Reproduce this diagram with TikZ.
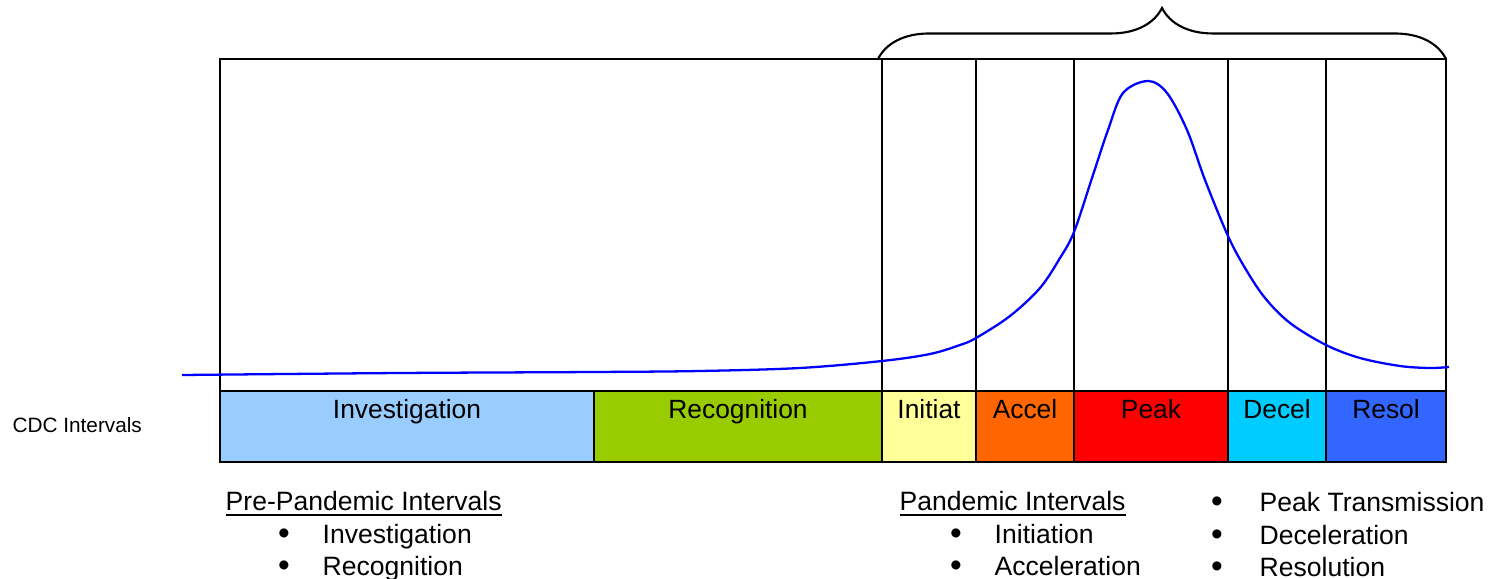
\documentclass[tikz,border=0pt]{standalone}
\usepackage{fontspec}
\setmainfont{Liberation Sans}
\usepackage{tikz}
\usetikzlibrary{positioning, decorations.pathreplacing, calc}
\definecolor{invColor}{HTML}{99CCFF}
\definecolor{recColor}{HTML}{99CC00}
\definecolor{iniColor}{HTML}{FFFF99}
\definecolor{accColor}{HTML}{FF6600}
\definecolor{peakColor}{HTML}{FF0000}
\definecolor{decColor}{HTML}{00CCFF}
\definecolor{resColor}{HTML}{3366FF}
\definecolor{curveBlue}{HTML}{0000FF}
\tikzset{
    frameLine/.style={line width=0.6pt, black},
    epiCurve/.style={line width=0.65pt, curveBlue},
}

\begin{document}
\begin{tikzpicture}[
        x=0.01cm, y=-0.01cm,
        barlabel/.style={
            anchor=base, inner sep=0pt, text=black,
            font=\fontsize{7.5}{9}\selectfont
        },
        sidelabel/.style={
            anchor=base west, inner sep=0pt,
            font=\fontsize{5.9}{7}\selectfont
        },
        listtext/.style={
            anchor=base west, inner sep=0pt,
            font=\fontsize{7.55}{9}\selectfont
        },
        bulletmark/.style={
            anchor=base, inner sep=0pt,
            font=\fontsize{9.5}{11}\selectfont
        },
        bracemark/.style={
            line width=0.6pt, decorate,
            decoration={brace, amplitude=0.51cm}
        },
    ]

    \useasboundingbox (0,0) rectangle (1494,579);

    % ---- Colour bar ----
    \fill[invColor]  (220,391) rectangle (594,462);
    \fill[recColor]  (594,391) rectangle (882,462);
    \fill[iniColor]  (882,391) rectangle (976,462);
    \fill[accColor]  (976,391) rectangle (1074,462);
    \fill[peakColor] (1074,391) rectangle (1228,462);
    \fill[decColor]  (1228,391) rectangle (1326,462);
    \fill[resColor]  (1326,391) rectangle (1446,462);

    \node[barlabel] (inv)  at (407,418)  {Investigation};
    \node[barlabel] (rec)  at (738,418)  {Recognition};
    \node[barlabel] (ini)  at (929,418)  {Initiat};
    \node[barlabel] (acc)  at (1025,418) {Accel};
    \node[barlabel] (peak) at (1151,418) {Peak};
    \node[barlabel] (dec)  at (1277,418) {Decel};
    \node[barlabel] (res)  at (1386,418) {Resol};

    % ---- Frame and interval lines ----
    \draw[frameLine] (220,59) rectangle (1446,462);
    \draw[frameLine] (220,391) -- (1446,391);
    \draw[frameLine] (594,391) -- (594,462);
    \draw[frameLine] (882,59) -- (882,462);
    \draw[frameLine] (976,59) -- (976,462);
    \draw[frameLine] (1074,59) -- (1074,462);
    \draw[frameLine] (1228,59) -- (1228,462);
    \draw[frameLine] (1326,59) -- (1326,462);

    % Brace over the pandemic intervals
    \draw[bracemark] (878,59) -- (1446,59);

    % ---- Epidemic curve ----
    \draw[epiCurve] plot[smooth, tension=0.55] coordinates {
        (182,375) (400,373) (594,372) (700,371) (800,368) (882,361)
        (930,354) (960,345) (976,338) (1010,316) (1040,288) (1060,258)
        (1074,232) (1092,178) (1108,130) (1123,93) (1148,81) (1167,93)
        (1187,130) (1205,180) (1228,236) (1245,268) (1265,298) (1290,323)
        (1326,345) (1360,358) (1400,366) (1430,368) (1449,367)};

    % Side label
    \node[sidelabel] (cdc) at (12,432) {CDC Intervals};

    % ---- Pre-pandemic list ----
    \node[listtext] (preHead) at (225,510) {\underline{Pre-Pandemic Intervals}};
    \node[bulletmark] (preB1) at (284,544) {•};
    \node[listtext] (pre1) at (322,543) {Investigation};
    \node[bulletmark] (preB2) at (284,576) {•};
    \node[listtext] (pre2) at (322,575) {Recognition};

    % ---- Pandemic list ----
    \node[listtext] (panHead) at (899,510) {\underline{Pandemic Intervals}};
    \node[bulletmark] (panB1) at (956,544) {•};
    \node[listtext] (pan1) at (994,543) {Initiation};
    \node[bulletmark] (panB2) at (956,576) {•};
    \node[listtext] (pan2) at (994,575) {Acceleration};

    \node[bulletmark] (panB3) at (1217,512) {•};
    \node[listtext] (pan3) at (1259,511) {Peak Transmission};
    \node[bulletmark] (panB4) at (1217,545) {•};
    \node[listtext] (pan4) at (1259,544) {Deceleration};
    \node[bulletmark] (panB5) at (1217,577) {•};
    \node[listtext] (pan5) at (1259,576) {Resolution};

\end{tikzpicture}
\end{document}
